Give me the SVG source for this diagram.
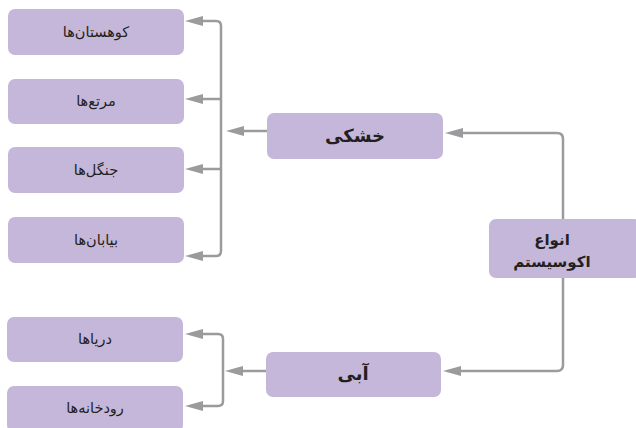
<svg xmlns="http://www.w3.org/2000/svg" width="636" height="428" viewBox="0 0 636 428">
<style>
.box{fill:#c5b7d9;}
.t{font-family:"DejaVu Sans","Noto Sans",sans-serif;fill:#231f20;text-anchor:middle;direction:rtl;}
.leaf{font-size:14.5px;}
.main{font-size:18px;font-weight:bold;}
.root{font-size:15px;font-weight:bold;}
.c{fill:none;stroke:#9b9b9e;stroke-width:2.5;marker-end:url(#ah);}
.c2{fill:none;stroke:#9b9b9e;stroke-width:2.5;}
</style>
<defs>
<marker id="ah" viewBox="0 0 18 10" refX="6" refY="5" markerWidth="18" markerHeight="10" markerUnits="userSpaceOnUse" orient="auto">
<path d="M0,0 L18,5 L0,10 z" fill="#9b9b9e"/>
</marker>
</defs>
<g id="connectors">
<path class="c" d="M221,99 H197"/>
<path class="c" d="M221,169 H197"/>
<path class="c" d="M221,40 V26 Q221,21 216,21 H197"/>
<path class="c" d="M221,200 V251 Q221,256 216,256 H197"/>
<path class="c2" d="M221,40 V200"/>
<path class="c" d="M267,131 H238"/>
<path class="c" d="M563,219 V139 Q563,133 557,133 H457"/>
<path class="c" d="M563,278 V365 Q563,371 557,371 H455"/>
<path class="c" d="M223,360 V339 Q223,334 218,334 H197"/>
<path class="c" d="M223,360 V401 Q223,406 218,406 H197"/>
<path class="c" d="M266,371 H237"/>
</g>
<g id="n-mountains"><rect class="box" x="8" y="9" width="176" height="46" rx="7"/><text class="t leaf" x="96" y="37">کوهستان‌ها</text></g>
<g id="n-pastures"><rect class="box" x="8" y="79" width="176" height="45" rx="7"/><text class="t leaf" x="96" y="106">مرتع‌ها</text></g>
<g id="n-forests"><rect class="box" x="8" y="147" width="176" height="46" rx="7"/><text class="t leaf" x="96" y="175">جنگل‌ها</text></g>
<g id="n-deserts"><rect class="box" x="8" y="217" width="176" height="46" rx="7"/><text class="t leaf" x="96" y="245">بیابان‌ها</text></g>
<g id="n-seas"><rect class="box" x="7" y="317" width="176" height="45" rx="7"/><text class="t leaf" x="95" y="344">دریاها</text></g>
<g id="n-rivers"><rect class="box" x="7" y="386" width="176" height="46" rx="7"/><text class="t leaf" x="95" y="413">رودخانه‌ها</text></g>
<g id="n-land"><rect class="box" x="267" y="113" width="176" height="46" rx="7"/><text class="t main" x="355" y="142">خشکی</text></g>
<g id="n-water"><rect class="box" x="266" y="352" width="175" height="45" rx="7"/><text class="t main" x="353" y="380">آبی</text></g>
<g id="n-root"><rect class="box" x="489" y="219" width="152" height="59" rx="7"/><text class="t root" x="552" y="245">انواع</text><text class="t root" x="552" y="267">اکوسیستم</text></g>
</svg>
